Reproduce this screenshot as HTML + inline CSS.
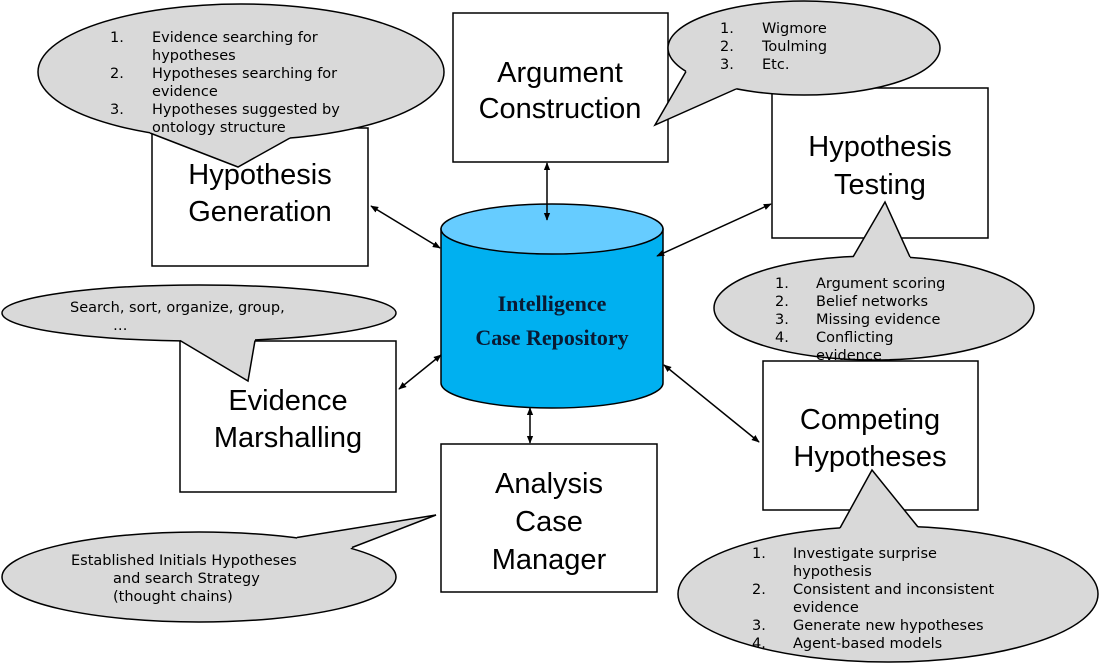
<!DOCTYPE html>
<html><head><meta charset="utf-8"><style>
html,body{margin:0;padding:0;background:#fff;}
svg{display:block;}
.box{fill:#fff;stroke:#000;stroke-width:1.5;}
.bl{font-family:"Liberation Sans",Arial,sans-serif;font-size:29px;fill:#000;text-anchor:middle;}
.bt{font-family:"DejaVu Sans",Verdana,sans-serif;font-size:14.5px;fill:#000;}
.bub{fill:#d9d9d9;stroke:#000;stroke-width:1.5;}
.tf{fill:#d9d9d9;stroke:none;}
.ts{fill:none;stroke:#000;stroke-width:1.5;}
.ar{stroke:#000;stroke-width:1.5;fill:none;marker-start:url(#a);marker-end:url(#a);}
</style></head><body>
<svg width="1103" height="664" viewBox="0 0 1103 664" xmlns="http://www.w3.org/2000/svg">
<defs>
<marker id="a" viewBox="0 0 10 10" refX="9" refY="5" markerWidth="8" markerHeight="8" orient="auto-start-reverse" markerUnits="userSpaceOnUse">
<path d="M0,1 L10,5 L0,9 z" fill="#000"/>
</marker>
</defs>

<!-- boxes -->
<rect class="box" x="453" y="13" width="215" height="149"/>
<rect class="box" x="152" y="128" width="216" height="138"/>
<rect class="box" x="772" y="88" width="216" height="150"/>
<rect class="box" x="180" y="341" width="216" height="151"/>
<rect class="box" x="441" y="444" width="216" height="148"/>
<rect class="box" x="763" y="361" width="215" height="149"/>

<text class="bl" x="560" y="82">Argument</text>
<text class="bl" x="560" y="118">Construction</text>
<text class="bl" x="260" y="184">Hypothesis</text>
<text class="bl" x="260" y="221">Generation</text>
<text class="bl" x="880" y="156">Hypothesis</text>
<text class="bl" x="880" y="194">Testing</text>
<text class="bl" x="288" y="410">Evidence</text>
<text class="bl" x="288" y="447">Marshalling</text>
<text class="bl" x="549" y="493">Analysis</text>
<text class="bl" x="549" y="531">Case</text>
<text class="bl" x="549" y="569">Manager</text>
<text class="bl" x="870" y="429">Competing</text>
<text class="bl" x="870" y="466">Hypotheses</text>

<!-- cylinder -->
<path d="M441,229 L441,383 A111,25 0 0 0 663,383 L663,229 Z" fill="#00b0f0" stroke="#000" stroke-width="1.5"/>
<ellipse cx="552" cy="229" rx="111" ry="25" fill="#66ccff" stroke="#000" stroke-width="1.5"/>
<text x="552" y="311" text-anchor="middle" font-family="Liberation Serif,serif" font-weight="bold" font-size="22" fill="#0a1a33">Intelligence</text>
<text x="552" y="345" text-anchor="middle" font-family="Liberation Serif,serif" font-weight="bold" font-size="22" fill="#0a1a33">Case Repository</text>

<!-- arrows -->
<line class="ar" x1="371" y1="206" x2="440" y2="248"/>
<line class="ar" x1="547" y1="163" x2="547" y2="220"/>
<line class="ar" x1="771" y1="204" x2="657" y2="256"/>
<line class="ar" x1="399" y1="389" x2="441" y2="355"/>
<line class="ar" x1="530" y1="408" x2="530" y2="443"/>
<line class="ar" x1="664" y1="365" x2="759" y2="442"/>

<!-- HG bubble -->
<ellipse class="bub" cx="241" cy="72" rx="203" ry="68"/>
<polygon class="tf" points="150,133 238,167 290,138 290,128 150,125"/>
<polyline class="ts" points="150,133 238,167 290,138"/>
<text class="bt"><tspan x="110" y="42">1.</tspan><tspan x="152" y="42">Evidence searching for</tspan>
<tspan x="152" y="60">hypotheses</tspan>
<tspan x="110" y="78">2.</tspan><tspan x="152" y="78">Hypotheses searching for</tspan>
<tspan x="152" y="96">evidence</tspan>
<tspan x="110" y="114">3.</tspan><tspan x="152" y="114">Hypotheses suggested by</tspan>
<tspan x="152" y="132">ontology structure</tspan></text>

<!-- AC bubble -->
<ellipse class="bub" cx="804" cy="48" rx="136" ry="47"/>
<polygon class="tf" points="686,71 655,125 736,89 740,80 690,65"/>
<polyline class="ts" points="686,71.5 655,125 736,89"/>
<text class="bt"><tspan x="720" y="33">1.</tspan><tspan x="762" y="33">Wigmore</tspan>
<tspan x="720" y="51">2.</tspan><tspan x="762" y="51">Toulming</tspan>
<tspan x="720" y="69">3.</tspan><tspan x="762" y="69">Etc.</tspan></text>

<!-- HT bubble -->
<ellipse class="bub" cx="874" cy="308" rx="160" ry="52"/>
<polygon class="tf" points="853,257 885,202 910,257 910,266 853,266"/>
<polyline class="ts" points="853,257 885,202 910,257"/>
<text class="bt"><tspan x="775" y="288">1.</tspan><tspan x="816" y="288">Argument scoring</tspan>
<tspan x="775" y="306">2.</tspan><tspan x="816" y="306">Belief networks</tspan>
<tspan x="775" y="324">3.</tspan><tspan x="816" y="324">Missing evidence</tspan>
<tspan x="775" y="342">4.</tspan><tspan x="816" y="342">Conflicting</tspan>
<tspan x="816" y="360">evidence</tspan></text>

<!-- EM bubble -->
<ellipse class="bub" cx="199" cy="313" rx="197" ry="28"/>
<polygon class="tf" points="180,340 248,381 255,340 255,332 180,332"/>
<polyline class="ts" points="180,340.5 248,381 255,340.5"/>
<text class="bt"><tspan x="70" y="312">Search, sort, organize, group,</tspan>
<tspan x="113" y="330">…</tspan></text>

<!-- ACM bubble -->
<ellipse class="bub" cx="199" cy="577" rx="197" ry="45"/>
<polygon class="tf" points="297,538 436,515 352,547 345,555 297,545"/>
<polyline class="ts" points="297,537.5 436,515 352,547.5"/>
<text class="bt"><tspan x="71" y="565">Established Initials Hypotheses</tspan>
<tspan x="113" y="583">and search Strategy</tspan>
<tspan x="113" y="601">(thought chains)</tspan></text>

<!-- CH bubble -->
<ellipse class="bub" cx="888" cy="594" rx="210" ry="68"/>
<polygon class="tf" points="840,528 872,470 918,527 918,536 840,536"/>
<polyline class="ts" points="840,528 872,470 918,527"/>
<text class="bt"><tspan x="752" y="558">1.</tspan><tspan x="793" y="558">Investigate surprise</tspan>
<tspan x="793" y="576">hypothesis</tspan>
<tspan x="752" y="594">2.</tspan><tspan x="793" y="594">Consistent and inconsistent</tspan>
<tspan x="793" y="612">evidence</tspan>
<tspan x="752" y="630">3.</tspan><tspan x="793" y="630">Generate new hypotheses</tspan>
<tspan x="752" y="648">4.</tspan><tspan x="793" y="648">Agent-based models</tspan></text>
</svg>
</body></html>
